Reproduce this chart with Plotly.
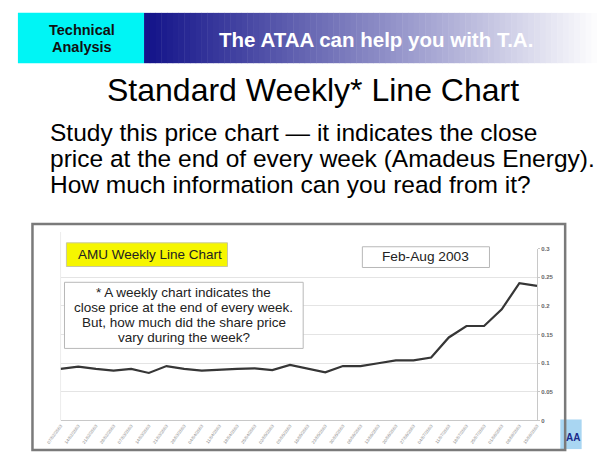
import plotly.graph_objects as go

# ---------------- data ----------------
weeks = ["07/02/2003", "14/02/2003", "21/02/2003", "28/02/2003",
         "07/03/2003", "14/03/2003", "21/03/2003", "28/03/2003",
         "04/04/2003", "11/04/2003", "18/04/2003", "25/04/2003",
         "02/05/2003", "09/05/2003", "16/05/2003", "23/05/2003", "30/05/2003",
         "06/06/2003", "13/06/2003", "20/06/2003", "27/06/2003",
         "04/07/2003", "11/07/2003", "18/07/2003", "25/07/2003",
         "01/08/2003", "08/08/2003", "15/08/2003"]
close = [0.090, 0.094, 0.090, 0.087, 0.090, 0.083, 0.095, 0.090,
         0.087, 0.089, 0.090, 0.091, 0.088, 0.097, 0.090, 0.084, 0.095,
         0.095, 0.100, 0.105, 0.105, 0.110, 0.145, 0.165, 0.165,
         0.194, 0.240, 0.235]
y_ticks = [0, 0.05, 0.1, 0.15, 0.2, 0.25, 0.3]
y_tick_labels = ["0", "0.05", "0.1", "0.15", "0.2", "0.25", "0.3"]

W, H = 606, 458
def px(x):
    return x / W
def py(y):
    return 1 - y / H

FONT = "Liberation Sans, Arial, sans-serif"

fig = go.Figure()
fig.add_trace(go.Scatter(x=weeks, y=close, mode="lines",
                         line=dict(color="#363636", width=2.2),
                         hoverinfo="x+y", showlegend=False))

shapes = []
# header cyan box
shapes.append(dict(type="rect", xref="paper", yref="paper",
                   x0=px(3), x1=px(133), y0=py(61), y1=py(10),
                   fillcolor="#00f5f5", line=dict(width=0), layer="below"))
# header gradient (navy -> white)
n = 80
c0 = (20, 20, 138)
c1 = (255, 255, 255)
xs, xe = 133, 606
for i in range(n):
    f = i / (n - 1)
    r = int(c0[0] + (c1[0] - c0[0]) * f)
    g = int(c0[1] + (c1[1] - c0[1]) * f)
    b = int(c0[2] + (c1[2] - c0[2]) * f)
    a = xs + (xe - xs) * i / n
    e = xs + (xe - xs) * (i + 1) / n + 0.5
    shapes.append(dict(type="rect", xref="paper", yref="paper",
                       x0=px(a), x1=px(e), y0=py(61), y1=py(10),
                       fillcolor=f"rgb({r},{g},{b})", line=dict(width=0),
                       layer="below"))
# logo peeking out at bottom right
shapes.append(dict(type="rect", xref="paper", yref="paper",
                   x0=px(562), x1=px(584), y0=py(452), y1=py(422),
                   fillcolor="#a9d6f2", line=dict(width=0), layer="below"))
# chart frame
shapes.append(dict(type="rect", xref="paper", yref="paper",
                   x0=px(18), x1=px(567), y0=py(453), y1=py(224),
                   fillcolor="rgba(0,0,0,0)", line=dict(color="#7a7a7a", width=2.5),
                   layer="above"))
# faint left edge of plot area
shapes.append(dict(type="line", xref="paper", yref="paper",
                   x0=px(47), x1=px(47), y0=py(423), y1=py(232),
                   line=dict(color="#ececec", width=1), layer="below"))
# yellow title box
shapes.append(dict(type="rect", xref="paper", yref="paper",
                   x0=px(53), x1=px(219), y0=py(267), y1=py(243),
                   fillcolor="#f6f600", line=dict(color="#c8c8a0", width=1),
                   layer="above"))
# note box
shapes.append(dict(type="rect", xref="paper", yref="paper",
                   x0=px(51), x1=px(297), y0=py(350), y1=py(283),
                   fillcolor="white", line=dict(color="#b8b8b8", width=1),
                   layer="above"))
# date box
shapes.append(dict(type="rect", xref="paper", yref="paper",
                   x0=px(358), x1=px(489), y0=py(268), y1=py(247),
                   fillcolor="white", line=dict(color="#b8b8b8", width=1),
                   layer="above"))

ann = []
def text(x, y, s, size, color="black", xanchor="center", bold=False):
    ann.append(dict(x=px(x), y=py(y), xref="paper", yref="paper",
                    text=(f"<b>{s}</b>" if bold else s), showarrow=False,
                    xanchor=xanchor, yanchor="middle",
                    font=dict(family=FONT, size=size, color=color)))

text(69, 27, "Technical", 14.5, color="#111", bold=True)
text(69, 45, "Analysis", 14.5, color="#111", bold=True)
text(372, 37, "The ATAA can help you with T.A.", 20.5, color="white", bold=True)
text(307, 88, "Standard Weekly* Line Chart", 32)
text(34, 131, "Study this price chart \u2014 it indicates the close", 24.5, xanchor="left")
text(34, 158, "price at the end of every week (Amadeus Energy).", 24.5, xanchor="left")
text(34, 184, "How much information can you read from it?", 24.5, xanchor="left")
text(63, 255, "AMU Weekly Line Chart", 13.5, color="#222", xanchor="left")
text(174, 293, "* A weekly chart indicates the", 13.5, color="#222")
text(174, 309, "close price at the end of every week.", 13.5, color="#222")
text(174, 324, "But, how much did the share price", 13.5, color="#222")
text(174, 339, "vary during the week?", 13.5, color="#222")
text(423, 257, "Feb-Aug 2003", 13.7, color="#222")
text(584, 440, "AA", 10, color="#1a2a8a", xanchor="right", bold=True)

fig.update_layout(
    width=W, height=H,
    margin=dict(l=0, r=0, t=0, b=0),
    paper_bgcolor="white", plot_bgcolor="white",
    shapes=shapes, annotations=ann,
    xaxis=dict(domain=[px(47), px(538)], type="category", range=[0, 27],
               showgrid=False, zeroline=False, showline=True,
               linecolor="#c8c8c8", linewidth=1, ticks="",
               tickangle=-54, tickfont=dict(family=FONT, size=4.5, color="#888")),
    yaxis=dict(domain=[py(423), py(249)], side="right", range=[0, 0.3],
               tickvals=y_ticks, ticktext=[f"<b>{t}</b>" for t in y_tick_labels],
               showgrid=True, gridcolor="#e4e4e4", gridwidth=1, zeroline=False,
               showline=True, linecolor="#c8c8c8", linewidth=1,
               ticks="outside", ticklen=2, tickcolor="#c8c8c8",
               tickfont=dict(family=FONT, size=6, color="#666")),
)

fig.write_html("out.html", config={"displayModeBar": False},
               post_script="document.body.style.margin='0';document.body.style.overflow='hidden';")
